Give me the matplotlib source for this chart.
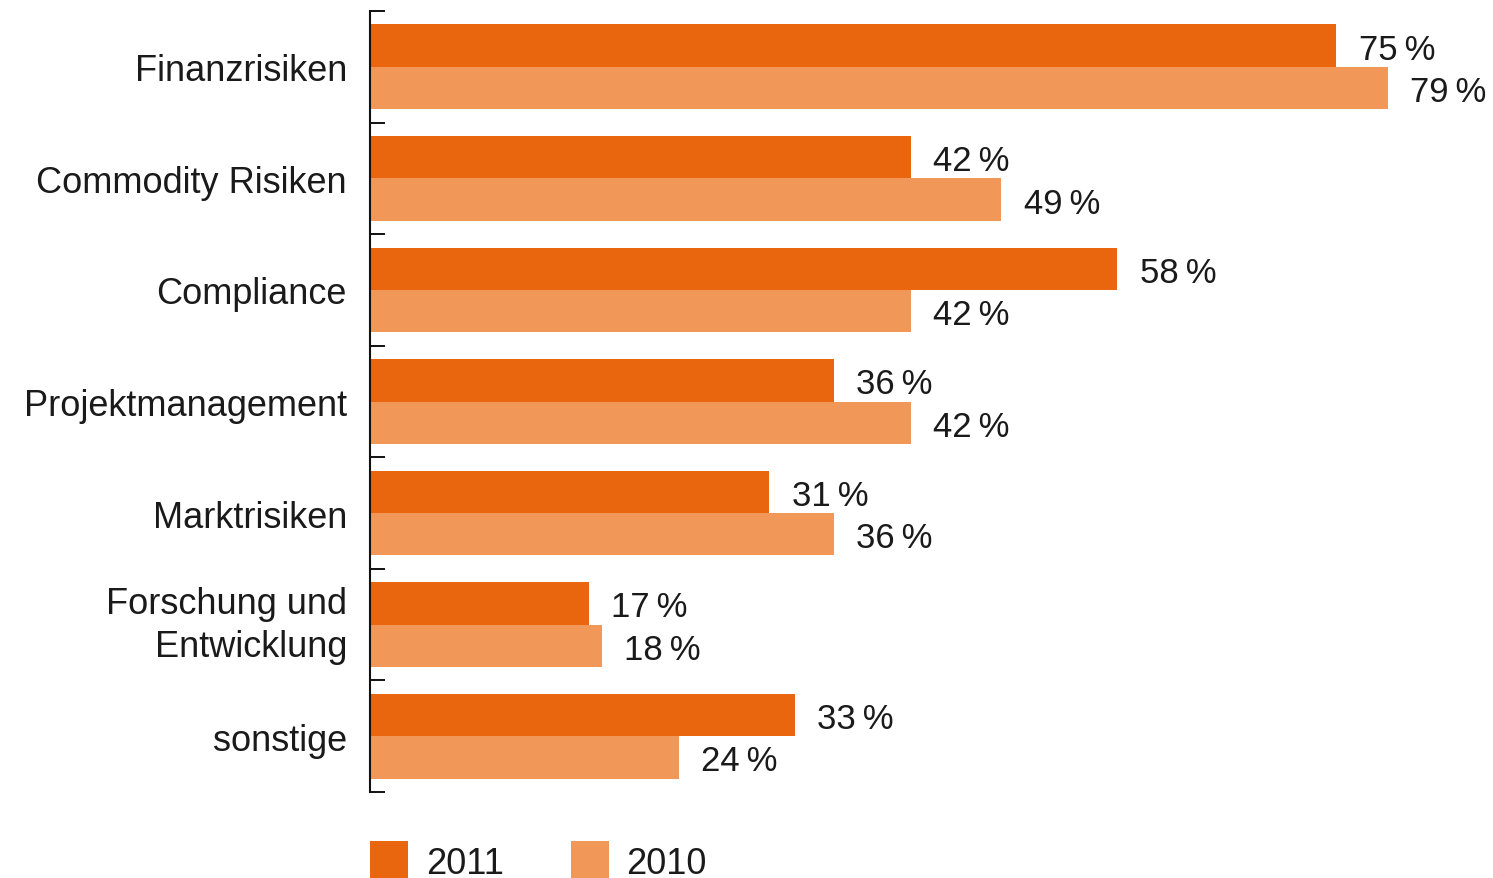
import matplotlib.pyplot as plt
import numpy as np

# values
categories = ["Finanzrisiken", "Commodity Risiken", "Compliance", "Projektmanagement",
              "Marktrisiken", "Forschung und\nEntwicklung", "sonstige"]
vals_2011 = [75, 42, 58, 36, 31, 17, 33]
vals_2010 = [79, 49, 42, 42, 36, 18, 24]
series = ["2011", "2010"]

c2011 = "#E9650E"
c2010 = "#F19858"
txt = "#1a1a1a"

plt.rcParams['font.family'] = ['Liberation Sans', 'DejaVu Sans']

W, H = 1493, 879
fig = plt.figure(figsize=(W / 100, H / 100), dpi=100)
left, right, top, bottom = 370, 1493, 12, 793
ax = fig.add_axes([left / W, 1 - bottom / H, (right - left) / W, (bottom - top) / H])

px_per_pct = (1388 - 370) / 79
ax.set_xlim(0, (right - left) / px_per_pct)
ax.set_ylim(len(categories) - 0.5, -0.5)

y = np.arange(len(categories))
h = 0.38
ax.barh(y - h / 2, vals_2011, height=h, color=c2011, label=series[0])
ax.barh(y + h / 2, vals_2010, height=h, color=c2010, label=series[1])

fs = 26
vfs = 25
for i in range(len(categories)):
    ax.annotate(f"{vals_2011[i]}\u2009%", (vals_2011[i], y[i] - h / 2), xytext=(16, 0),
                textcoords="offset points", va="center_baseline", ha="left",
                fontsize=vfs, color=txt)
    ax.annotate(f"{vals_2010[i]}\u2009%", (vals_2010[i], y[i] + h / 2), xytext=(16, 0),
                textcoords="offset points", va="center_baseline", ha="left",
                fontsize=vfs, color=txt)
    multi = "\n" in categories[i]
    ax.text(-23 / px_per_pct, y[i], categories[i], ha="right",
            va="center" if multi else "center_baseline",
            fontsize=fs, color=txt, linespacing=1.3)

# tick marks sit between the groups
ax.set_yticks(np.arange(len(categories) + 1) - 0.5)
ax.set_yticklabels([])
ax.tick_params(axis="y", direction="in", length=11, width=1.4, color="#111")
ax.set_xticks([])
for s in ["top", "right", "bottom"]:
    ax.spines[s].set_visible(False)
ax.spines["left"].set_linewidth(1.5)
ax.spines["left"].set_color("#111")

fig.legend(loc="center left", bbox_to_anchor=(left / W, 1 - 862 / H), ncol=2,
           frameon=False, fontsize=fs, handlelength=1.05, handleheight=1.25,
           handletextpad=0.5, columnspacing=1.85, borderpad=0, borderaxespad=0,
           labelcolor=txt)

fig.savefig("out.png", dpi=100)
